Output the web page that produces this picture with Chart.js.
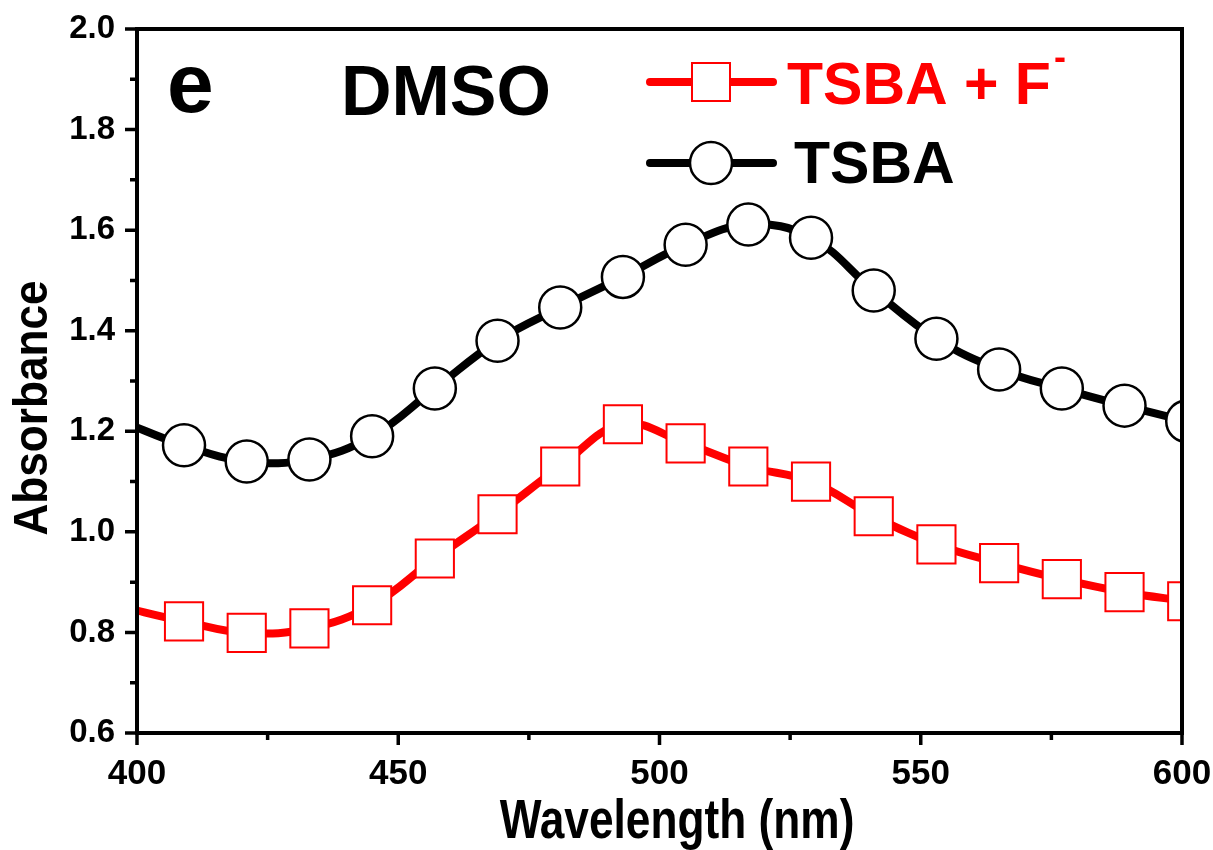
<!DOCTYPE html>
<html>
<head>
<meta charset="utf-8">
<script src="https://cdn.jsdelivr.net/npm/chart.js@4.4.1/dist/chart.umd.min.js"></script>
<style>
  html, body { margin: 0; padding: 0; background: #fff; }
  #wrap { width: 1213px; height: 850px; position: relative; }
</style>
</head>
<body>
<div id="wrap"><canvas id="absChart"></canvas></div>
<script>
// wavelengths (nm) of the sampled points; 397 sits just outside the axis so the line enters from the edge
const wavelengths = [397, 409, 421, 433, 445, 457, 469, 481, 493, 505, 517, 529, 541, 553, 565, 577, 589, 601];
const tsbaValues = [1.220, 1.172, 1.140, 1.144, 1.190, 1.285, 1.380, 1.446, 1.507, 1.571, 1.611, 1.585, 1.480, 1.384, 1.323, 1.285, 1.251, 1.220];
const tsbaFValues = [0.851, 0.822, 0.799, 0.808, 0.854, 0.947, 1.035, 1.130, 1.214, 1.176, 1.130, 1.100, 1.031, 0.975, 0.938, 0.906, 0.880, 0.862];
const seriesNames = ['TSBA + F', 'TSBA'];
const xMajorTicks = [400, 450, 500, 550, 600];
const xMinorTicks = [425, 475, 525, 575];
const yMajorTicks = [0.6, 0.8, 1.0, 1.2, 1.4, 1.6, 1.8, 2.0];
const yMinorTicks = [0.7, 0.9, 1.1, 1.3, 1.5, 1.7, 1.9];
const xTitle = 'Wavelength (nm)';
const yTitle = 'Absorbance';

const FONT = "'Liberation Sans', Arial, sans-serif";

function toPoints(values) {
    return wavelengths.map((w, i) => ({ x: w, y: values[i] }));
}

// no marker on the lead-in point
const markerRadius = (r) => wavelengths.map((w, i) => (i === 0 ? 0 : r));

// frame, outward ticks, axis titles, panel labels and the line+marker legend
const decorations = {
    id: 'decorations',
    afterDraw(chart) {
        const { ctx, chartArea, scales } = chart;
        const { left, right, top, bottom } = chartArea;
        ctx.save();
        ctx.strokeStyle = '#000';
        ctx.lineWidth = 4;
        ctx.strokeRect(left, top, right - left, bottom - top);

        ctx.lineWidth = 3.5;
        ctx.beginPath();
        yMajorTicks.forEach(v => {
            const py = scales.y.getPixelForValue(v);
            ctx.moveTo(left - 12, py); ctx.lineTo(left, py);
        });
        yMinorTicks.forEach(v => {
            const py = scales.y.getPixelForValue(v);
            ctx.moveTo(left - 7, py); ctx.lineTo(left, py);
        });
        xMajorTicks.forEach(v => {
            const px = scales.x.getPixelForValue(v);
            ctx.moveTo(px, bottom); ctx.lineTo(px, bottom + 12);
        });
        xMinorTicks.forEach(v => {
            const px = scales.x.getPixelForValue(v);
            ctx.moveTo(px, bottom); ctx.lineTo(px, bottom + 7);
        });
        ctx.stroke();

        // axis titles (the original uses a narrow, tall bold face)
        ctx.fillStyle = '#000';
        ctx.textAlign = 'center';
        ctx.textBaseline = 'alphabetic';
        ctx.save();
        ctx.translate(677, 838);
        ctx.scale(0.79, 1);
        ctx.font = 'bold 56px ' + FONT;
        ctx.fillText(xTitle, 0, 0);
        ctx.restore();

        ctx.save();
        ctx.translate(47, 408);
        ctx.rotate(-Math.PI / 2);
        ctx.scale(0.92, 1);
        ctx.font = 'bold 48px ' + FONT;
        ctx.fillText(yTitle, 0, 0);
        ctx.restore();
        ctx.textAlign = 'left';

        // panel letter and solvent
        ctx.font = 'bold 84px ' + FONT;
        ctx.fillText('e', 167, 112);
        ctx.font = 'bold 70px ' + FONT;
        ctx.fillText('DMSO', 341, 115);

        // legend
        const drawEntry = (y, color, style, label, textX, baseline) => {
            ctx.strokeStyle = color;
            ctx.lineWidth = 8;
            ctx.lineCap = 'round';
            ctx.beginPath();
            ctx.moveTo(650, y); ctx.lineTo(773, y);
            ctx.stroke();
            ctx.fillStyle = '#fff';
            ctx.lineWidth = style === 'rect' ? 2 : 2.5;
            ctx.beginPath();
            if (style === 'rect') {
                ctx.rect(711 - 19, y - 19, 38, 38);
            } else {
                ctx.arc(711, y, 21, 0, Math.PI * 2);
            }
            ctx.fill();
            ctx.stroke();
            ctx.fillStyle = color;
            ctx.font = 'bold 59px ' + FONT;
            ctx.fillText(label, textX, baseline);
            return textX + ctx.measureText(label).width;
        };
        const end = drawEntry(82, '#ff0000', 'rect', seriesNames[0], 787, 104);
        ctx.font = 'bold 36px ' + FONT;
        ctx.fillText('-', end + 3, 69);
        drawEntry(163, '#000000', 'circle', seriesNames[1], 794, 183);
        ctx.restore();
    }
};

const ctx = document.getElementById('absChart');
new Chart(ctx, {
    type: 'line',
    data: {
        datasets: [
            {
                label: seriesNames[0],
                data: toPoints(tsbaFValues),
                borderColor: '#ff0000',
                borderWidth: 8,
                tension: 0.4,
                pointStyle: 'rect',
                pointRadius: markerRadius(27),
                pointBackgroundColor: '#fff',
                pointBorderColor: '#ff0000',
                pointBorderWidth: 2,
                clip: 0
            },
            {
                label: seriesNames[1],
                data: toPoints(tsbaValues),
                borderColor: '#000000',
                borderWidth: 8,
                tension: 0.4,
                pointStyle: 'circle',
                pointRadius: markerRadius(21),
                pointBackgroundColor: '#fff',
                pointBorderColor: '#000',
                pointBorderWidth: 2.5,
                clip: 0
            }
        ]
    },
    options: {
        responsive: true,
        maintainAspectRatio: false,
        animation: false,
        layout: { padding: { top: 28, right: 31, left: 0, bottom: 0 } },
        plugins: {
            legend: { display: false },
            tooltip: { enabled: false }
        },
        scales: {
            x: {
                type: 'linear',
                min: 400,
                max: 600,
                afterBuildTicks: (scale) => { scale.ticks = xMajorTicks.map(v => ({ value: v })); },
                afterFit: (scale) => {
                    scale.height = 117;
                    scale.paddingLeft = 0;
                    scale.paddingRight = 0;
                },
                grid: { display: false, drawTicks: false },
                border: { display: false },
                ticks: {
                    color: '#000',
                    padding: 20,
                    font: { family: FONT, size: 35, weight: 'bold' }
                },
                title: { display: false }
            },
            y: {
                min: 0.6,
                max: 2.0,
                afterBuildTicks: (scale) => { scale.ticks = yMajorTicks.map(v => ({ value: v })); },
                afterFit: (scale) => {
                    scale.width = 137;
                    scale.paddingTop = 0;
                    scale.paddingBottom = 0;
                },
                grid: { display: false, drawTicks: false },
                border: { display: false },
                ticks: {
                    color: '#000',
                    padding: 22,
                    callback: (v) => Number(v).toFixed(1),
                    font: { family: FONT, size: 33, weight: 'bold' }
                },
                title: { display: false }
            }
        }
    },
    plugins: [decorations]
});
</script>
</body>
</html>
